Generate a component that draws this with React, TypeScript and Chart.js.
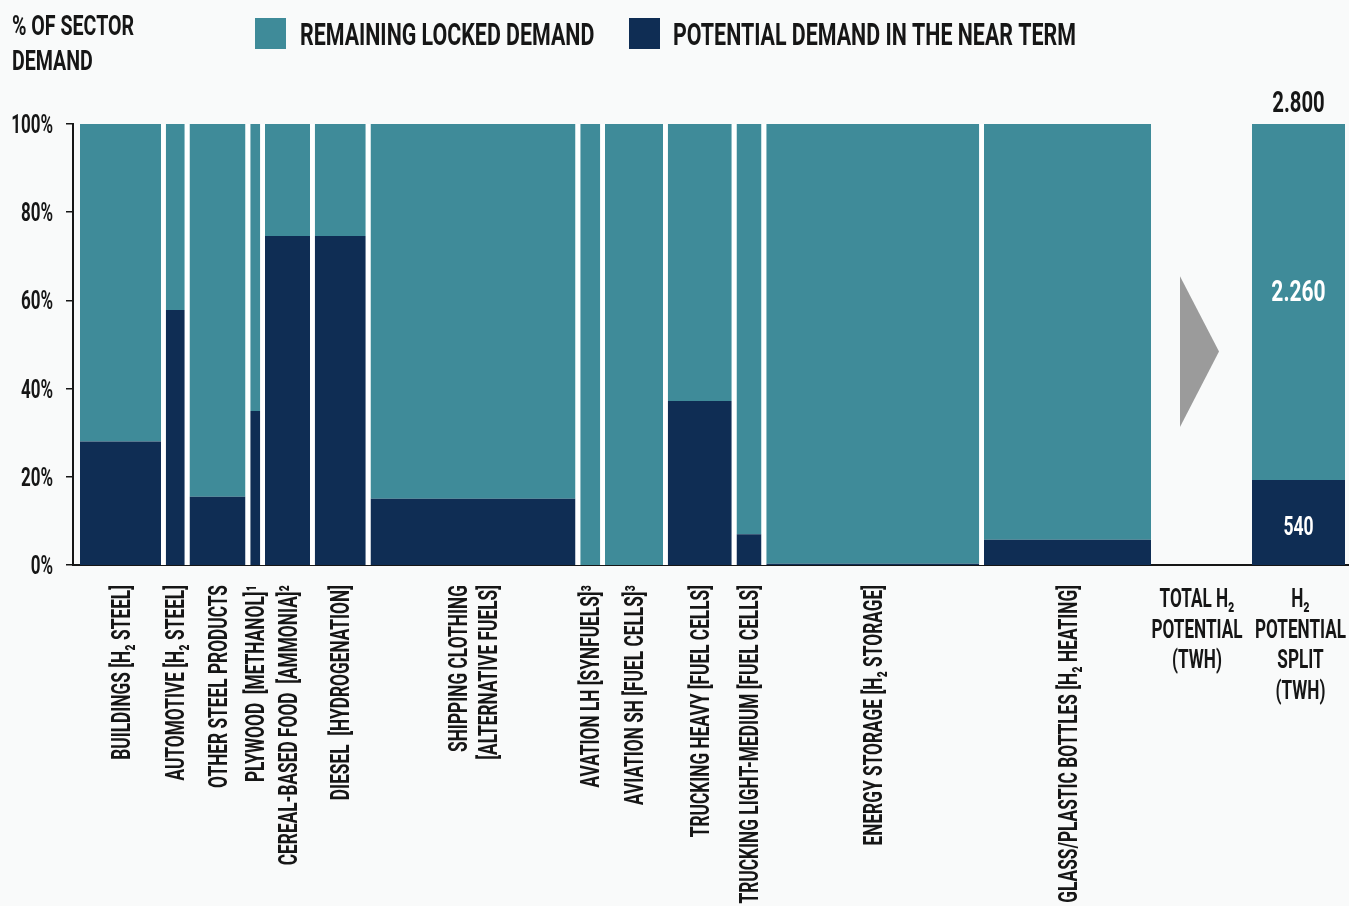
import React, { useEffect, useRef } from 'react';
import { Chart, registerables } from 'chart.js';

Chart.register(...registerables);

// ---------------- DATA ----------------
const sectorLabels: string[][] = [
  ['BUILDINGS [H₂ STEEL]'],
  ['AUTOMOTIVE [H₂ STEEL]'],
  ['OTHER STEEL PRODUCTS'],
  ['PLYWOOD  [METHANOL]¹'],
  ['CEREAL-BASED FOOD  [AMMONIA]²'],
  ['DIESEL  [HYDROGENATION]'],
  ['SHIPPING CLOTHING', '[ALTERNATIVE FUELS]'],
  ['AVATION LH [SYNFUELS]³'],
  ['AVIATION SH [FUEL CELLS]³'],
  ['TRUCKING HEAVY [FUEL CELLS]'],
  ['TRUCKING LIGHT-MEDIUM [FUEL CELLS]'],
  ['ENERGY STORAGE [H₂ STORAGE]'],
  ['GLASS/PLASTIC BOTTLES [H₂ HEATING]'],
];
// relative size of each sector's demand (bar width)
const sectorSize = [81, 19, 56, 10, 45, 51, 205, 20, 58, 64, 25, 213, 167];
// % of sector demand that is potential demand in the near term
const nearTermShare = [28.0, 57.8, 15.5, 34.9, 74.6, 74.6, 15.0, 0, 0, 37.2, 7.0, 0.3, 5.7];
const yTicks = [0, 20, 40, 60, 80, 100];
const totalTWh = 2800;
const nearTermTWh = 540;
const lockedTWh = 2260;
const legendLabels = ['REMAINING LOCKED DEMAND', 'POTENTIAL DEMAND IN THE NEAR TERM'];
const axisTitle = ['% OF SECTOR', 'DEMAND'];
const totalLabel = ['TOTAL H₂', 'POTENTIAL', '(TWH)'];
const splitLabel = ['H₂', 'POTENTIAL', 'SPLIT', '(TWH)'];

// ---------------- STYLE / LAYOUT ----------------
const W = 1349;
const H = 906;
const TEAL = '#3f8b99';
const NAVY = '#0f2d54';
const INK = '#161616';
const BG = '#f9fafa';
const ARROW = '#9b9b9b';
const FONT = "Roboto, 'DejaVu Sans', sans-serif";
const X_MAX = 1276;
const LEAD = 7;
const GAP = 4.75;
const TOTAL_OFFSET = 46;
const SPLIT_OFFSET = 101;
const SPLIT_WIDTH = 93;

const fmt = (v: number) => String(v).replace(/\B(?=(\d{3})+(?!\d))/g, '.');

function txt(
  ctx: CanvasRenderingContext2D,
  s: string,
  x: number,
  y: number,
  o: { size: number; color?: string; align?: CanvasTextAlign; sx?: number; rot?: boolean }
) {
  ctx.save();
  ctx.translate(x, y);
  if (o.rot) ctx.rotate(-Math.PI / 2);
  ctx.scale(o.sx ?? 0.68, 1);
  ctx.font = `700 ${o.size}px ${FONT}`;
  ctx.fillStyle = o.color ?? INK;
  ctx.textAlign = o.align ?? 'left';
  ctx.textBaseline = 'alphabetic';
  ctx.fillText(s, 0, 0);
  ctx.restore();
}

export default function App() {
  const ref = useRef<HTMLCanvasElement | null>(null);

  useEffect(() => {
    if (!ref.current) return;

    const spans: [number, number][] = [];
    let cur = LEAD;
    sectorSize.forEach((w) => {
      spans.push([cur, cur + w]);
      cur += w + GAP;
    });
    const sectorEnd = cur - GAP;
    const totalCenter = sectorEnd + TOTAL_OFFSET;
    const splitSpan: [number, number] = [sectorEnd + SPLIT_OFFSET, sectorEnd + SPLIT_OFFSET + SPLIT_WIDTH];
    const nearPct = (nearTermTWh / totalTWh) * 100;

    const rect = (a: number, b: number, top: number, bottom: number, color: string, label: string) => ({
      type: 'line' as const,
      label,
      data: [
        { x: a, y: top },
        { x: b, y: top },
      ],
      fill: { value: bottom },
      backgroundColor: color,
      borderColor: 'rgba(0,0,0,0)',
      borderWidth: 0,
      pointRadius: 0,
      pointHoverRadius: 0,
      tension: 0,
    });

    const datasets: any[] = [];
    spans.forEach(([a, b], i) => {
      datasets.push(rect(a, b, nearTermShare[i], 0, NAVY, legendLabels[1]));
      datasets.push(rect(a, b, 100, nearTermShare[i], TEAL, legendLabels[0]));
    });
    datasets.push(rect(splitSpan[0], splitSpan[1], nearPct, 0, NAVY, legendLabels[1]));
    datasets.push(rect(splitSpan[0], splitSpan[1], 100, nearPct, TEAL, legendLabels[0]));

    const textPlugin = {
      id: 'textPlugin',
      beforeDatasetsDraw(chart: any) {
        const ctx: CanvasRenderingContext2D = chart.ctx;
        const xs = chart.scales.x;
        const ys = chart.scales.y;
        // white backdrop behind the sector bars (visible as the gaps)
        ctx.save();
        ctx.fillStyle = '#ffffff';
        const l = xs.getPixelForValue(LEAD);
        const r = xs.getPixelForValue(sectorEnd);
        ctx.fillRect(l, ys.top, r - l, ys.bottom - ys.top);
        ctx.restore();
      },
      afterDraw(chart: any) {
        const ctx: CanvasRenderingContext2D = chart.ctx;
        const xs = chart.scales.x;
        const ys = chart.scales.y;

        // axis title
        txt(ctx, axisTitle[0], 12, 35, { size: 28, sx: 0.7 });
        txt(ctx, axisTitle[1], 12, 70, { size: 28, sx: 0.7 });

        // legend
        ctx.fillStyle = TEAL;
        ctx.fillRect(255, 18, 31, 31);
        txt(ctx, legendLabels[0], 300, 45, { size: 31, sx: 0.69 });
        ctx.fillStyle = NAVY;
        ctx.fillRect(629, 18, 31, 31);
        txt(ctx, legendLabels[1], 673, 45, { size: 31, sx: 0.69 });

        // y tick labels
        ys.ticks.forEach((t: any, i: number) => {
          const py = ys.getPixelForTick(i);
          txt(ctx, `${t.value}%`, 53, py + 9, { size: 25, sx: 0.68, align: 'right' });
        });

        // rotated sector labels
        const labelTop = ys.bottom + 20;
        const size = 26;
        const cap = size * 0.711;
        spans.forEach(([a, b], i) => {
          const cx = xs.getPixelForValue((a + b) / 2);
          const lines = sectorLabels[i];
          lines.forEach((ln, j) => {
            const off = (j - (lines.length - 1) / 2) * 30;
            txt(ctx, ln, cx + off + cap / 2, labelTop, { size, sx: 0.665, rot: true, align: 'right' });
          });
        });

        // summary column labels
        const tcx = xs.getPixelForValue(totalCenter);
        totalLabel.forEach((ln, j) => txt(ctx, ln, tcx, ys.bottom + 42 + j * 30.5, { size, sx: 0.66, align: 'center' }));
        const scx = xs.getPixelForValue((splitSpan[0] + splitSpan[1]) / 2) + 2;
        splitLabel.forEach((ln, j) => txt(ctx, ln, scx, ys.bottom + 42 + j * 30.5, { size, sx: 0.66, align: 'center' }));

        // arrow
        ctx.save();
        ctx.fillStyle = ARROW;
        ctx.beginPath();
        ctx.moveTo(tcx - 17, ys.getPixelForValue(65.5));
        ctx.lineTo(tcx + 22, ys.getPixelForValue(48.4));
        ctx.lineTo(tcx - 17, ys.getPixelForValue(31.3));
        ctx.closePath();
        ctx.fill();
        ctx.restore();

        // value labels
        const bcx = xs.getPixelForValue((splitSpan[0] + splitSpan[1]) / 2);
        txt(ctx, fmt(totalTWh), bcx, ys.getPixelForValue(100) - 12, { size: 29, sx: 0.7, align: 'center' });
        txt(ctx, fmt(lockedTWh), bcx, ys.getPixelForValue((100 + nearPct) / 2) - 1, {
          size: 30,
          sx: 0.7,
          align: 'center',
          color: '#ffffff',
        });
        txt(ctx, fmt(nearTermTWh), bcx, ys.getPixelForValue(nearPct / 2) + 13, {
          size: 25,
          sx: 0.7,
          align: 'center',
          color: '#ffffff',
        });
      },
    };

    const chart = new Chart(ref.current, {
      type: 'line',
      data: { datasets },
      options: {
        animation: false,
        responsive: false,
        events: [],
        layout: { padding: { top: 124, left: 0, right: 0, bottom: 0 } },
        plugins: {
          legend: { display: false },
          tooltip: { enabled: false },
          title: { display: false },
        },
        scales: {
          x: {
            type: 'linear',
            min: 0,
            max: X_MAX,
            grid: { display: false },
            ticks: { display: false },
            border: { display: true, color: INK, width: 2 },
            afterFit: (s: any) => {
              s.height = H - 565;
            },
          },
          y: {
            type: 'linear',
            min: 0,
            max: 100,
            afterBuildTicks: (s: any) => {
              s.ticks = yTicks.map((v) => ({ value: v }));
            },
            grid: {
              display: true,
              drawOnChartArea: false,
              drawTicks: true,
              tickLength: 7,
              color: INK,
              lineWidth: 1.5,
            },
            ticks: { display: false },
            border: { display: true, color: INK, width: 2 },
            afterFit: (s: any) => {
              s.width = 73;
            },
          },
        },
      },
      plugins: [textPlugin],
    } as any);

    return () => chart.destroy();
  }, []);

  return (
    <div style={{ position: 'fixed', left: 0, top: 0, width: W, height: H, background: BG }}>
      <canvas ref={ref} width={W} height={H} style={{ display: 'block' }} />
    </div>
  );
}
